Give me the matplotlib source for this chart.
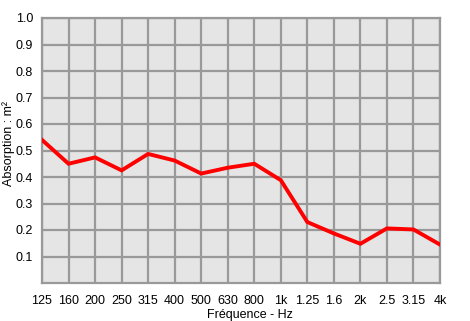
import numpy as np
import matplotlib
matplotlib.use("Agg")
import matplotlib.pyplot as plt

plt.rcParams['font.family'] = ['Liberation Sans', 'DejaVu Sans']

# Third-octave bands and absorption
freq_labels = ["125", "160", "200", "250", "315", "400", "500", "630", "800",
               "1k", "1.25", "1.6", "2k", "2.5", "3.15", "4k"]
absorption = [0.54, 0.45, 0.474, 0.425, 0.487, 0.462, 0.413, 0.435, 0.45,
              0.388, 0.23, 0.187, 0.148, 0.206, 0.202, 0.145]
y_ticks = [0.1, 0.2, 0.3, 0.4, 0.5, 0.6, 0.7, 0.8, 0.9, 1.0]


def main():
    fig = plt.figure(figsize=(4.7, 3.21), dpi=100)
    ax = fig.add_axes([42 / 470, 1 - 283 / 321, 398 / 470, 265 / 321])

    x = np.arange(len(freq_labels))
    ax.set_facecolor("#e5e5e5")
    ax.plot(x, absorption, color="#ff0000", linewidth=2.8,
            solid_joinstyle="miter", zorder=3)

    ax.set_xlim(0, len(freq_labels) - 1)
    ax.set_ylim(0, 1.0)
    ax.set_xticks(x)
    ax.set_xticklabels(freq_labels)
    ax.set_yticks(y_ticks)
    ax.set_yticklabels([f"{v:.1f}" for v in y_ticks])
    ax.tick_params(axis="x", length=0, labelsize=9, pad=8.5)
    ax.tick_params(axis="y", length=0, labelsize=9, pad=6.5)

    ax.grid(True, color="#999999", linewidth=1.6)
    ax.set_axisbelow(True)
    for s in ax.spines.values():
        s.set_color("#999999")
        s.set_linewidth(1.6)

    ax.set_xlabel("Fréquence - Hz", fontsize=9)
    ax.xaxis.set_label_coords(0.523, -0.097)
    ax.set_ylabel("Absorption : m²", fontsize=9)
    ax.yaxis.set_label_coords(-0.069, 0.525)

    fig.savefig("out.png", dpi=100)


if __name__ == "__main__":
    main()
